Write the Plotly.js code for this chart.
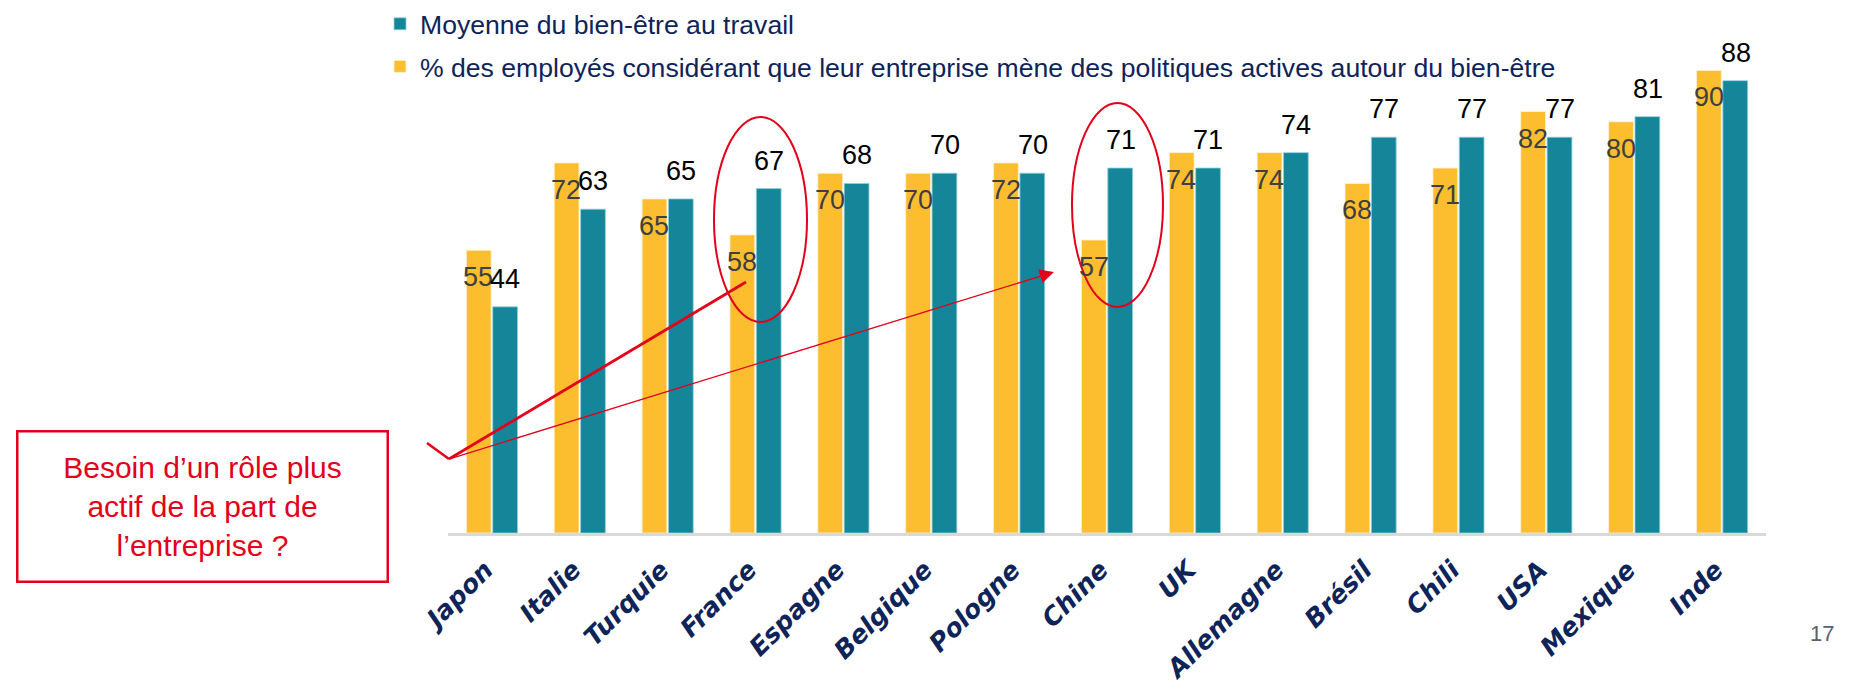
<!DOCTYPE html>
<html>
<head>
<meta charset="utf-8">
<script src="https://cdn.plot.ly/plotly-3.0.1.min.js"></script>
<style>
  html, body { margin: 0; padding: 0; background: #ffffff; }
  #chart { width: 1866px; height: 696px; }
</style>
</head>
<body>
<div id="chart"></div>
<script>
// ---- Data ----
const pays = ["Japon", "Italie", "Turquie", "France", "Espagne", "Belgique", "Pologne", "Chine", "UK", "Allemagne", "Brésil", "Chili", "USA", "Mexique", "Inde"];
const politiquesActives = [55, 72, 65, 58, 70, 70, 72, 57, 74, 74, 68, 71, 82, 80, 90];
const moyenneBienEtre = [44, 63, 65, 67, 68, 70, 70, 71, 71, 74, 77, 77, 77, 81, 88];
const nomMoyenne = "Moyenne du bien-être au travail";
const nomPolitiques = "% des employés considérant que leur entreprise mène des politiques actives autour du bien-être";
const texteEncadre = "Besoin d’un rôle plus<br>actif de la part de<br>l’entreprise ?";
const numeroPage = "17";

// ---- Styles ----
const JAUNE = "#FCBE2F";
const BLEU = "#15869A";
const ROUGE = "#E2001A";
const MARINE = "#0E2459";

const W = 1866, H = 696;
const M = { l: 448, r: 100, t: 19, b: 163 };
const plotW = W - M.l - M.r, plotH = H - M.t - M.b;
const px = x => (x - M.l) / plotW;
const py = y => (H - M.b - y) / plotH;

const traces = [
  {
    type: "bar", name: nomPolitiques, x: pays, y: politiquesActives,
    marker: { color: JAUNE, line: { color: "#FFF3D0", width: 0.8 } },
    legendgroup: "p", legendrank: 2, hoverinfo: "skip"
  },
  {
    type: "bar", name: nomMoyenne, x: pays, y: moyenneBienEtre,
    marker: { color: BLEU, line: { color: "#8FD0DA", width: 0.8 } },
    legendgroup: "m", legendrank: 1, hoverinfo: "skip"
  }
];

const annotations = [];
const numFont = { family: "Liberation Sans, Arial, sans-serif", size: 27 };
pays.forEach((c, i) => {
  annotations.push({
    x: c, y: politiquesActives[i], xref: "x", yref: "y",
    text: String(politiquesActives[i]), showarrow: false,
    xanchor: "center", yanchor: "middle", xshift: -13.5, yshift: -27,
    font: Object.assign({}, numFont, { color: "#3F3F3F" })
  });
  annotations.push({
    x: c, y: moyenneBienEtre[i], xref: "x", yref: "y",
    text: String(moyenneBienEtre[i]), showarrow: false,
    xanchor: "center", yanchor: "bottom", xshift: 13.5, yshift: 11,
    font: Object.assign({}, numFont, { color: "#000000" })
  });
});

// Encadré rouge
annotations.push({
  xref: "paper", yref: "paper", x: px(202), y: py(506),
  xanchor: "center", yanchor: "middle",
  text: texteEncadre, showarrow: false, align: "center",
  width: 368, height: 148, borderwidth: 2.5, bordercolor: ROUGE, borderpad: 0,
  font: { family: "Liberation Sans, Arial, sans-serif", size: 30, color: ROUGE }
});

// Flèche fine vers la Chine
annotations.push({
  xref: "paper", yref: "paper", x: px(1054), y: py(272),
  axref: "pixel", ayref: "pixel", ax: 449 - 1054, ay: 459 - 272,
  text: "", showarrow: true, arrowhead: 2, arrowsize: 2.2, arrowwidth: 1.3,
  arrowcolor: ROUGE, standoff: 0
});

// Numéro de page
annotations.push({
  xref: "paper", yref: "paper", x: px(1822), y: py(633),
  xanchor: "center", yanchor: "middle", text: numeroPage, showarrow: false,
  font: { family: "Liberation Sans, Arial, sans-serif", size: 22, color: "#5B6070" }
});

const shapes = [
  // coche
  { type: "line", xref: "paper", yref: "paper", x0: px(427), y0: py(443), x1: px(449), y1: py(459),
    line: { color: ROUGE, width: 2.5 } },
  // trait épais vers France
  { type: "line", xref: "paper", yref: "paper", x0: px(449), y0: py(459), x1: px(746), y1: py(282),
    line: { color: ROUGE, width: 2.8 } },
  // ellipses
  { type: "circle", xref: "paper", yref: "paper", x0: px(714), x1: px(807), y0: py(117), y1: py(322),
    line: { color: ROUGE, width: 2 } },
  { type: "circle", xref: "paper", yref: "paper", x0: px(1072), x1: px(1163), y0: py(103), y1: py(307),
    line: { color: ROUGE, width: 2 } }
];

const layout = {
  width: W, height: H,
  margin: Object.assign({ autoexpand: false }, M),
  paper_bgcolor: "#ffffff", plot_bgcolor: "#ffffff",
  barmode: "group", bargap: 0.4, bargroupgap: 0.06,
  showlegend: true,
  legend: {
    xref: "container", yref: "container",
    x: 380 / W, y: 1, xanchor: "left", yanchor: "top",
    traceorder: "grouped", tracegroupgap: 5,
    font: { family: "Liberation Sans, Arial, sans-serif", size: 26.6, color: MARINE },
    bgcolor: "rgba(0,0,0,0)"
  },
  xaxis: {
    type: "category", tickangle: -45, showgrid: false, zeroline: false,
    showline: true, linecolor: "#D9D9D9", linewidth: 2.5, ticks: "",
    tickmode: "array", tickvals: pays, ticktext: pays.map(s => s + "\u00A0"),
    ticklabelstandoff: 3, automargin: false,
    tickfont: { family: "DejaVu Sans, sans-serif", size: 25.5, color: MARINE, weight: "bold", style: "italic" },
    fixedrange: true
  },
  yaxis: {
    range: [0, 100], visible: false, showgrid: false, zeroline: false, fixedrange: true, automargin: false
  },
  annotations: annotations,
  shapes: shapes,
  hovermode: false
};

Plotly.newPlot("chart", traces, layout, { displayModeBar: false, staticPlot: true });
</script>
</body>
</html>
